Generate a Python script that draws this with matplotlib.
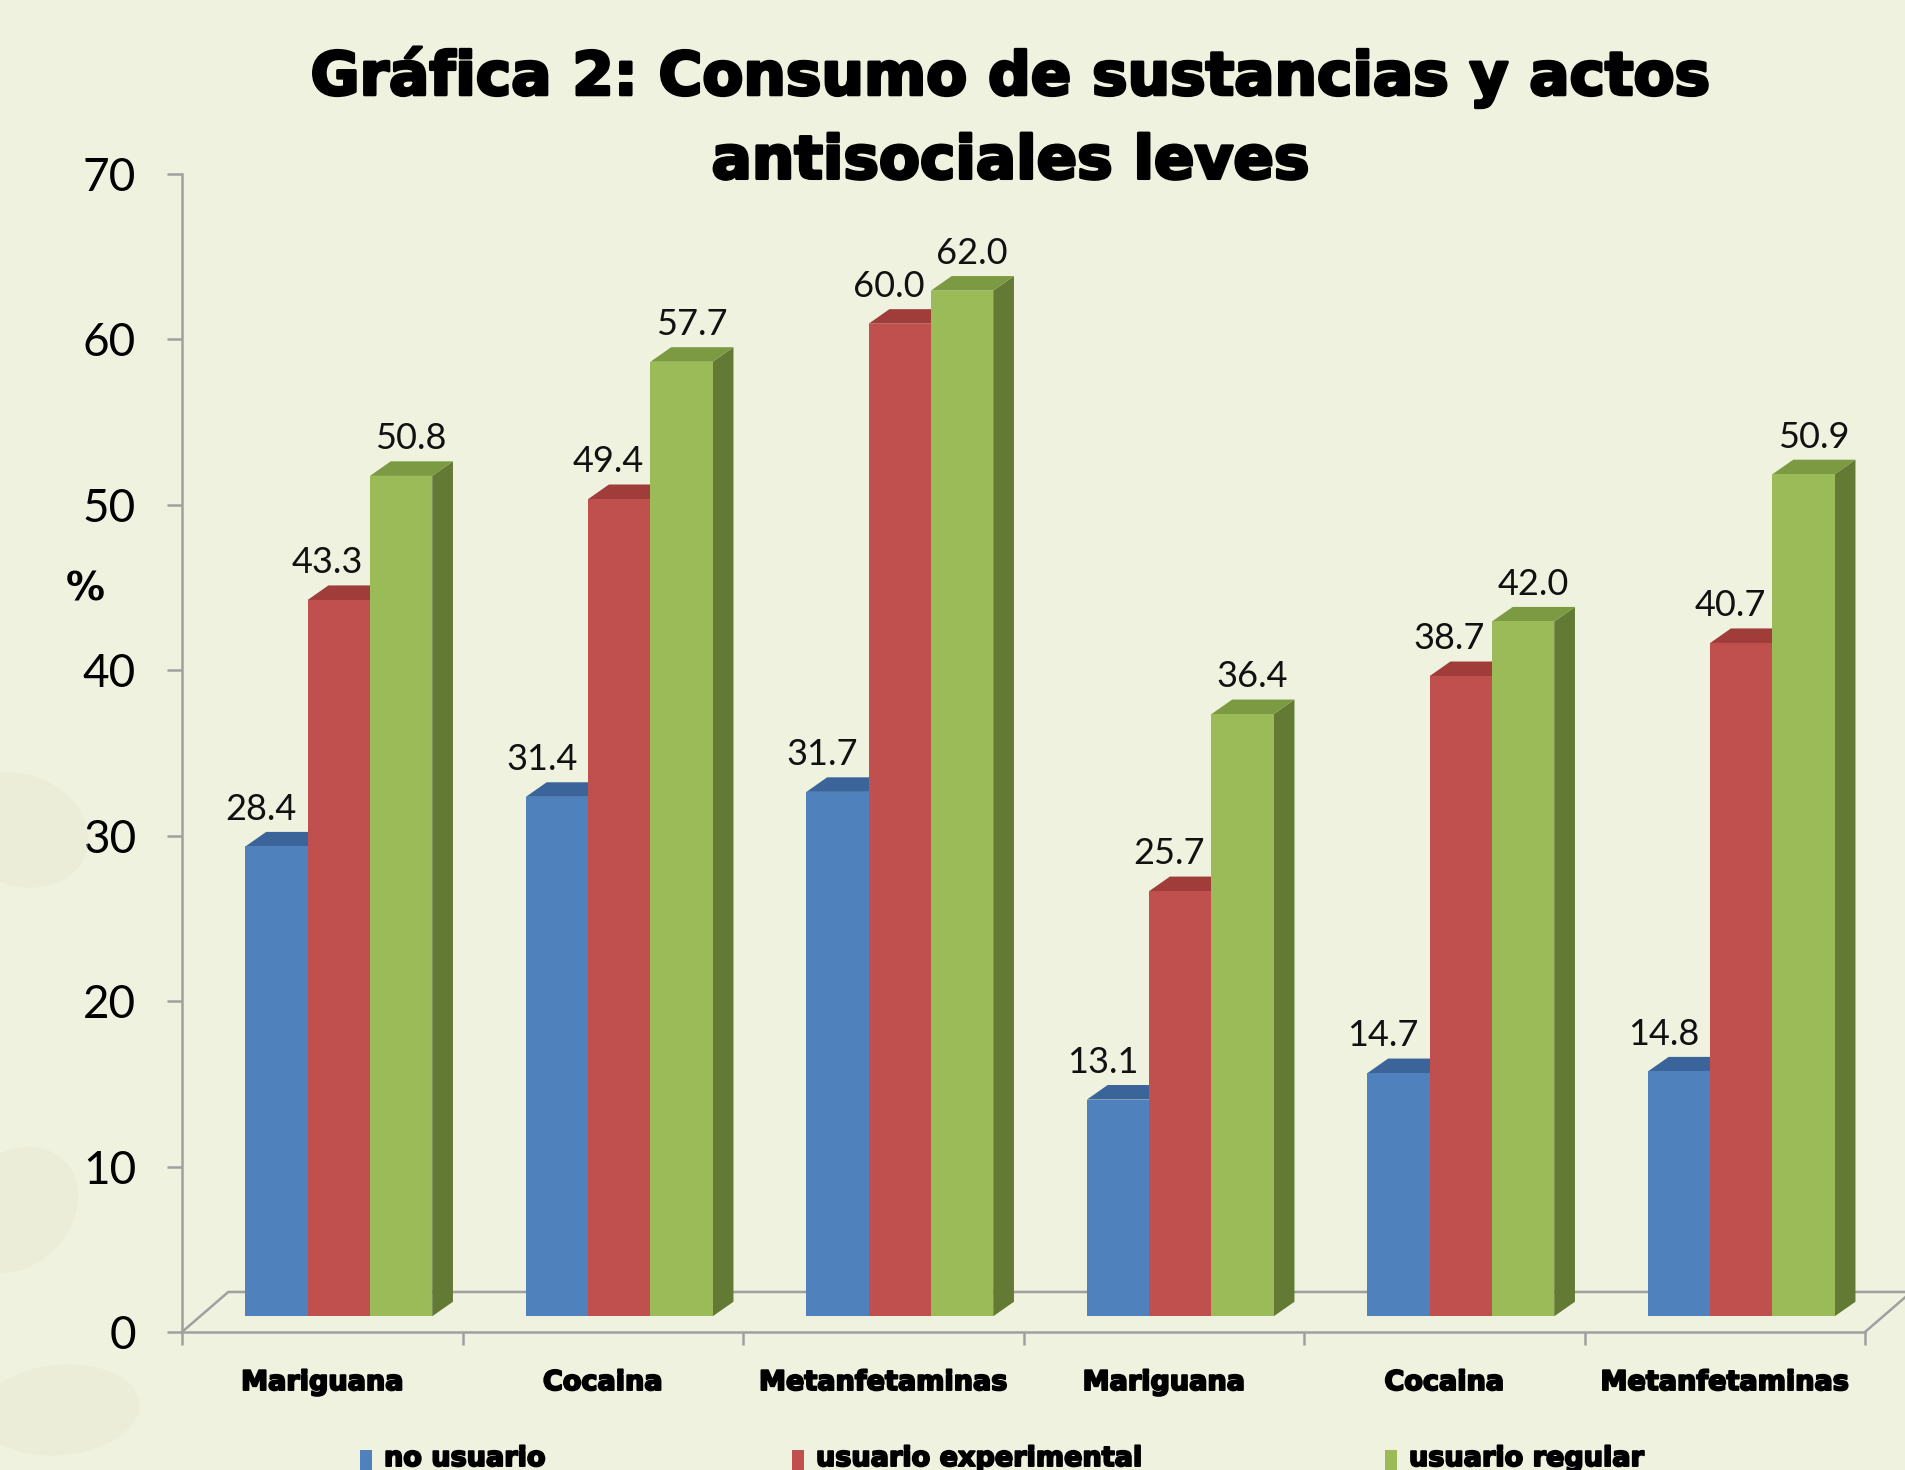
import matplotlib
matplotlib.use('Agg')
import matplotlib.pyplot as plt
import matplotlib.patheffects as pe
from matplotlib.patches import Polygon, Rectangle, Ellipse
from matplotlib.transforms import blended_transform_factory

# ---- data ----
categories = ['Mariguana', 'Cocaina', 'Metanfetaminas', 'Mariguana', 'Cocaina', 'Metanfetaminas']
series_names = ['no usuario', 'usuario experimental', 'usuario regular']
no_usuario = [28.4, 31.4, 31.7, 13.1, 14.7, 14.8]
usuario_experimental = [43.3, 49.4, 60.0, 25.7, 38.7, 40.7]
usuario_regular = [50.8, 57.7, 62.0, 36.4, 42.0, 50.9]
yticks = [0, 10, 20, 30, 40, 50, 60, 70]
title_lines = ['Gráfica 2: Consumo de sustancias y actos', 'antisociales leves']

# ---- style ----
W, H = 1905, 1470
bg = '#EEF2DF'
front_cols = ['#4F81BD', '#C0504D', '#9BBB59']
top_cols = ['#3B659A', '#A03C39', '#7B9A42']
side_cols = ['#34598A', '#8E3431', '#637A34']
axis_col = '#A0A0A0'

fig = plt.figure(figsize=(W / 100, H / 100), dpi=100)
fig.patch.set_facecolor(bg)

# very faint background blobs on the left edge
for (cx, cy, ew, eh, ang) in [(20, 830, 130, 120, 30), (15, 1210, 120, 130, -20), (60, 1410, 160, 90, 10)]:
    fig.patches.append(Ellipse((cx / W, 1 - cy / H), ew / W, eh / H, angle=ang, transform=fig.transFigure,
                               facecolor='#E6E3CC', edgecolor='none', alpha=0.3, zorder=0))

ax = fig.add_axes([182 / W, 1 - 1332 / H, (1865 - 182) / W, (1332 - 174) / H])
ax.set_facecolor('none')
ax.set_xlim(0, 6)
ax.set_ylim(0, 70)

# 3D-ish geometry (in data units)
floor_dx, floor_dy = 0.165, 2.42
base = 0.95
bar_w = 0.222
start = 0.226
bdx, bdy = 0.074, 0.88
label_off = [-0.055, -0.04, 0.035]

# floor
ax.plot([0, floor_dx, 6 + floor_dx], [0, floor_dy, floor_dy], color=axis_col, lw=1.8, clip_on=False, zorder=1)
ax.plot([6, 6 + floor_dx], [0, floor_dy], color=axis_col, lw=1.8, clip_on=False, zorder=1)

all_series = [no_usuario, usuario_experimental, usuario_regular]
for i in range(len(categories)):
    for s, vals in enumerate(all_series):
        v = vals[i]
        x0 = i + start + s * bar_w
        x1 = x0 + bar_w
        top = base + v
        z = 3 + s
        ax.add_patch(Polygon([(x1, base), (x1 + bdx, base + bdy), (x1 + bdx, top + bdy), (x1, top)],
                             closed=True, facecolor=side_cols[s], edgecolor='none', zorder=z))
        ax.add_patch(Polygon([(x0, top), (x1, top), (x1 + bdx, top + bdy), (x0 + bdx, top + bdy)],
                             closed=True, facecolor=top_cols[s], edgecolor='none', zorder=z))
        ax.bar(x0, v, width=bar_w, bottom=base, align='edge', color=front_cols[s],
               edgecolor='none', zorder=z + 0.5)
        ax.text(x0 + bar_w / 2 + label_off[s], top + 2.25, f'{v:.1f}', ha='center', va='center',
                fontsize=26, family='Lato', color='#111111', zorder=10)

# axes styling
for sp in ['top', 'right']:
    ax.spines[sp].set_visible(False)
for sp in ['left', 'bottom']:
    ax.spines[sp].set_color(axis_col)
    ax.spines[sp].set_linewidth(1.8)
ax.set_yticks(yticks)
ax.set_yticklabels([str(t) for t in yticks], fontsize=33, family='Lato')
ax.tick_params(axis='y', length=11, width=1.8, color=axis_col, pad=22)
ax.set_xticks(range(0, 7))
ax.set_xticklabels([])
ax.tick_params(axis='x', length=9, width=1.8, color=axis_col)

heavy = [pe.withStroke(linewidth=1.4, foreground='black')]
trans = blended_transform_factory(ax.transData, ax.transAxes)
for i, c in enumerate(categories):
    ax.text(i + 0.5, -51 / 1158, c, transform=trans, ha='center', va='center',
            fontsize=19.5, fontweight='bold', family='DejaVu Sans', path_effects=heavy)

fig.text(85 / W, 1 - 589 / H, '%', ha='center', va='center', fontsize=28, fontweight='bold', family='DejaVu Sans')

title_fx = [pe.withStroke(linewidth=2.2, foreground='black')]
fig.text(1011 / W, 1 - 77 / H, title_lines[0], ha='center', va='center', fontsize=43,
         fontweight='bold', family='DejaVu Sans', path_effects=title_fx)
fig.text(1011 / W, 1 - 162 / H, title_lines[1], ha='center', va='center', fontsize=43,
         fontweight='bold', family='DejaVu Sans', path_effects=title_fx)

# legend (sits at the very bottom edge as in reference)
leg_sq_x = [360, 792, 1385]
for s, name in enumerate(series_names):
    fig.patches.append(Rectangle((leg_sq_x[s] / W, 0), 12 / W, 20 / H,
                                 transform=fig.transFigure, facecolor=front_cols[s], edgecolor='none'))
    fig.text((leg_sq_x[s] + 24) / W, 4 / H, name, ha='left', va='baseline', fontsize=19.5,
             fontweight='bold', family='DejaVu Sans', path_effects=heavy)

fig.savefig('out.png', dpi=100, facecolor=bg)
